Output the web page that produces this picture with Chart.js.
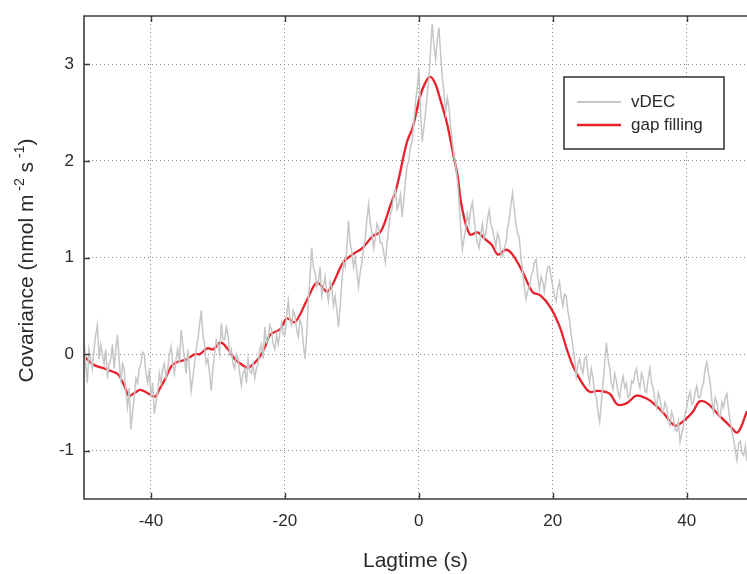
<!DOCTYPE html>
<html><head><meta charset="utf-8">
<script src="https://cdn.jsdelivr.net/npm/chart.js@4/dist/chart.umd.min.js"></script>
<style>html,body{margin:0;padding:0;background:#fff}#wrap{width:747px;height:574px}</style>
</head><body><div id="wrap"><canvas id="c" width="747" height="574"></canvas></div>
<script>
// ---------- data ----------
const xTickValues = [-40, -20, 0, 20, 40];
const yTickValues = [-1, 0, 1, 2, 3];
const xRange = [-50, 49];
const yRange = [-1.5, 3.5];

// vDEC: sampled every 0.25 s starting at -50 s
const vdecStart = -50;
const vdecStep = 0.25;
const vdecCov = [
  0.15,-0.10,-0.30,0.05,-0.05,-0.15,0.05,0.20,0.30,-0.05,0.10,0.00,-0.10,0.05,-0.25,-0.10,-0.05,0.10,-0.15,0.05,
  0.20,-0.05,-0.30,-0.10,-0.15,-0.40,-0.55,-0.35,-0.78,-0.60,-0.45,-0.25,-0.30,-0.15,-0.10,0.02,0.00,-0.20,-0.30,-0.15,
  -0.45,-0.30,-0.62,-0.50,-0.40,-0.20,-0.30,-0.15,-0.10,-0.25,-0.15,0.00,0.08,-0.10,-0.20,-0.05,0.05,-0.10,0.25,0.10,
  -0.05,-0.20,0.05,-0.15,-0.38,-0.25,-0.10,0.05,0.15,0.30,0.45,0.20,0.10,-0.10,-0.05,-0.20,-0.38,-0.15,0.00,0.15,
  0.10,0.00,0.32,0.15,0.15,0.28,0.20,0.00,0.05,-0.10,-0.15,0.00,-0.05,-0.20,-0.32,-0.20,-0.15,-0.30,-0.05,-0.18,
  -0.20,-0.10,-0.25,-0.15,-0.10,0.05,0.10,-0.05,0.28,0.12,0.15,0.30,0.25,0.10,0.05,0.20,0.10,0.22,0.32,0.20,
  0.20,0.40,0.55,0.35,0.30,0.45,0.40,0.25,0.18,0.35,0.30,0.10,-0.05,0.20,0.55,0.80,1.10,0.90,0.85,0.70,
  0.75,0.90,0.60,0.70,0.80,0.65,0.55,0.75,0.70,0.50,0.60,0.45,0.28,0.50,0.75,0.95,0.90,1.10,1.38,1.15,
  1.05,0.90,1.00,0.85,0.70,0.85,0.95,1.10,1.20,1.40,1.55,1.35,1.25,1.10,1.20,1.35,1.30,1.15,1.15,1.05,
  0.95,1.15,1.30,1.45,1.50,1.65,1.70,1.50,1.55,1.65,1.42,1.60,1.80,1.95,2.00,2.15,2.20,2.40,2.60,2.75,
  2.95,2.50,2.20,2.35,2.50,2.70,2.85,3.15,3.42,3.20,3.05,3.25,3.38,3.10,2.87,2.70,2.50,2.65,2.55,2.35,
  2.20,2.05,1.95,1.80,1.60,1.30,1.08,1.20,1.30,1.45,1.35,1.50,1.57,1.40,1.25,1.15,1.10,1.25,1.35,1.20,
  1.25,1.40,1.49,1.35,1.30,1.20,1.11,1.25,1.20,1.05,1.01,1.10,1.15,1.30,1.40,1.55,1.67,1.50,1.35,1.25,
  1.20,1.00,0.85,0.70,0.57,0.65,0.70,0.80,0.85,0.95,0.98,0.80,0.67,0.80,0.75,0.65,0.80,0.90,0.91,0.80,
  0.70,0.60,0.55,0.68,0.75,0.60,0.50,0.62,0.60,0.45,0.35,0.20,0.08,-0.05,-0.23,-0.10,-0.05,-0.15,-0.20,-0.05,
  -0.02,-0.20,-0.30,-0.15,-0.25,-0.40,-0.45,-0.60,-0.70,-0.50,-0.30,-0.10,0.12,-0.05,-0.15,-0.30,-0.36,-0.20,-0.28,-0.40,
  -0.45,-0.30,-0.23,-0.35,-0.30,-0.45,-0.43,-0.28,-0.30,-0.20,-0.15,-0.28,-0.35,-0.20,-0.25,-0.38,-0.40,-0.25,-0.15,-0.30,
  -0.35,-0.48,-0.55,-0.40,-0.46,-0.58,-0.60,-0.50,-0.55,-0.68,-0.74,-0.60,-0.65,-0.78,-0.80,-0.70,-0.91,-0.82,-0.75,-0.62,
  -0.55,-0.45,-0.39,-0.52,-0.50,-0.40,-0.33,-0.45,-0.45,-0.35,-0.30,-0.15,-0.08,-0.20,-0.30,-0.48,-0.60,-0.45,-0.50,-0.62,
  -0.65,-0.50,-0.55,-0.45,-0.41,-0.58,-0.70,-0.80,-0.88,-1.00,-1.10,-0.92,-0.90,-1.02,-1.05,-0.95,-1.11
];

// gap filling
const gapLag = [-50,-48.8,-47.9,-46.9,-45.8,-44.9,-43.9,-43.3,-42.4,-41.6,
  -40.6,-39.4,-38.7,-37.9,-36.9,-36.0,-34.9,-33.4,-32.7,-31.6,
  -30.7,-29.6,-28.5,-27.5,-26.4,-25.5,-24.0,-23.0,-22.2,-20.7,
  -19.7,-18.5,-16.7,-15.2,-13.6,-11.3,-9.9,-8.4,-6.9,-5.8,
  -5.1,-4.3,-3.3,-1.8,-0.9,0.15,0.9,1.64,2.4,3.1,
  4.2,5.1,5.8,6.4,7.6,8.8,9.9,10.9,11.8,13.0,
  14.0,15.5,17.0,18.1,19.6,21.0,22.1,23.0,24.3,25.5,
  26.7,28.5,29.6,31.0,32.5,34.0,35.2,36.4,38.2,39.4,
  40.9,41.9,43.1,44.9,46.4,47.6,49.0];
const gapCov = [-0.02,-0.10,-0.13,-0.15,-0.18,-0.21,-0.34,-0.43,-0.40,-0.37,
  -0.40,-0.44,-0.36,-0.26,-0.12,-0.08,-0.06,0.00,0.00,0.06,
  0.05,0.12,0.05,-0.05,-0.11,-0.14,-0.05,0.07,0.20,0.26,
  0.37,0.33,0.56,0.74,0.65,0.95,1.03,1.10,1.22,1.26,
  1.36,1.53,1.73,2.19,2.35,2.66,2.80,2.87,2.81,2.66,
  2.39,2.08,1.84,1.53,1.24,1.26,1.19,1.13,1.03,1.08,
  1.03,0.85,0.64,0.61,0.49,0.29,0.05,-0.12,-0.29,-0.39,
  -0.38,-0.41,-0.52,-0.51,-0.43,-0.46,-0.52,-0.60,-0.74,-0.70,
  -0.60,-0.49,-0.51,-0.64,-0.74,-0.81,-0.59];

const seriesNames = ['vDEC', 'gap filling'];
const xTitle = 'Lagtime (s)';
const yTitleParts = [['Covariance (nmol m', false], [' -2', true], [' s', false], [' -1', true], [')', false]];

// ---------- build ----------
const vdecPoints = vdecCov.map((v, i) => ({x: vdecStart + i * vdecStep, y: v}));
const gapPoints = gapLag.map((l, i) => ({x: l, y: gapCov[i]}));

const FONT = "'Liberation Sans', Arial, Helvetica, sans-serif";
const frameColor = '#3c3c3c';
const textColor = '#2a2a2a';

const framePlugin = {
  id: 'frame',
  afterDatasetsDraw(chart) {
    const {ctx, chartArea: a, scales: {x, y}} = chart;
    ctx.save();
    ctx.strokeStyle = frameColor;
    ctx.lineWidth = 1.6;
    ctx.beginPath();
    ctx.moveTo(a.right + 2, a.top);
    ctx.lineTo(a.left, a.top);
    ctx.lineTo(a.left, a.bottom);
    ctx.lineTo(a.right + 2, a.bottom);
    ctx.stroke();
    ctx.lineWidth = 1.4;
    ctx.beginPath();
    xTickValues.forEach(v => {
      const px = Math.round(x.getPixelForValue(v)) + 0.5;
      ctx.moveTo(px, a.bottom); ctx.lineTo(px, a.bottom - 6);
      ctx.moveTo(px, a.top); ctx.lineTo(px, a.top + 6);
    });
    yTickValues.forEach(v => {
      const py = Math.round(y.getPixelForValue(v)) + 0.5;
      ctx.moveTo(a.left, py); ctx.lineTo(a.left + 6, py);
    });
    ctx.stroke();
    ctx.restore();
  }
};

const legendPlugin = {
  id: 'boxLegend',
  afterDraw(chart) {
    const {ctx, chartArea: a} = chart;
    const bx = a.right - 183, by = a.top + 61, bw = 160, bh = 72;
    ctx.save();
    ctx.fillStyle = '#fff';
    ctx.fillRect(bx, by, bw, bh);
    ctx.strokeStyle = frameColor;
    ctx.lineWidth = 1.6;
    ctx.strokeRect(bx, by, bw, bh);
    ctx.font = '17px ' + FONT;
    ctx.textBaseline = 'middle';
    ctx.fillStyle = textColor;
    chart.data.datasets.forEach((ds, i) => {
      const ly = by + 25 + i * 23;
      ctx.strokeStyle = ds.borderColor;
      ctx.lineWidth = i === 0 ? 2 : ds.borderWidth;
      ctx.beginPath();
      ctx.moveTo(bx + 13, ly); ctx.lineTo(bx + 57, ly);
      ctx.stroke();
      ctx.fillText(ds.label, bx + 67, ly);
    });
    ctx.restore();
  }
};

const yTitlePlugin = {
  id: 'yTitle',
  afterDraw(chart) {
    const {ctx, chartArea: a} = chart;
    const big = '21px ' + FONT, small = '14px ' + FONT;
    ctx.save();
    let total = 0;
    yTitleParts.forEach(([t, sup]) => { ctx.font = sup ? small : big; total += ctx.measureText(t).width; });
    ctx.translate(33, (a.top + a.bottom) / 2 + 3);
    ctx.rotate(-Math.PI / 2);
    ctx.fillStyle = textColor;
    ctx.textBaseline = 'alphabetic';
    let cx = -total / 2;
    yTitleParts.forEach(([t, sup]) => {
      ctx.font = sup ? small : big;
      ctx.fillText(t, cx, sup ? -9 : 0);
      cx += ctx.measureText(t).width;
    });
    ctx.restore();
  }
};

new Chart(document.getElementById('c'), {
  type: 'line',
  data: {
    datasets: [
      {label: seriesNames[0], data: vdecPoints, borderColor: '#c6c6c6', borderWidth: 1.5, pointRadius: 0, tension: 0},
      {label: seriesNames[1], data: gapPoints, borderColor: '#e8222c', borderWidth: 2.3, pointRadius: 0, tension: 0.35}
    ]
  },
  options: {
    responsive: false,
    animation: false,
    events: [],
    layout: {padding: {top: 16, right: 0, left: 0, bottom: 0}},
    plugins: {legend: {display: false}, tooltip: {enabled: false}},
    scales: {
      x: {
        type: 'linear', min: xRange[0], max: xRange[1],
        afterBuildTicks: s => { s.ticks = xTickValues.map(v => ({value: v})); },
        afterFit: s => { s.height = 75; s.paddingLeft = 0; s.paddingRight = 0; },
        grid: {color: '#8a8a8a', lineWidth: 1, drawTicks: false},
        border: {display: false, dash: [1, 3]},
        ticks: {font: {size: 17, family: FONT}, color: textColor, padding: 12, maxRotation: 0},
        title: {display: true, text: xTitle, font: {size: 21, family: FONT}, color: textColor, padding: {bottom: 0, top: 0}}
      },
      y: {
        min: yRange[0], max: yRange[1],
        afterBuildTicks: s => { s.ticks = yTickValues.map(v => ({value: v})); },
        afterFit: s => { s.width = 84; s.paddingTop = 0; s.paddingBottom = 0; },
        grid: {color: '#8a8a8a', lineWidth: 1, drawTicks: false},
        border: {display: false, dash: [1, 3]},
        ticks: {font: {size: 17, family: FONT}, color: textColor, padding: 10}
      }
    }
  },
  plugins: [framePlugin, legendPlugin, yTitlePlugin]
});
</script>
</body></html>
